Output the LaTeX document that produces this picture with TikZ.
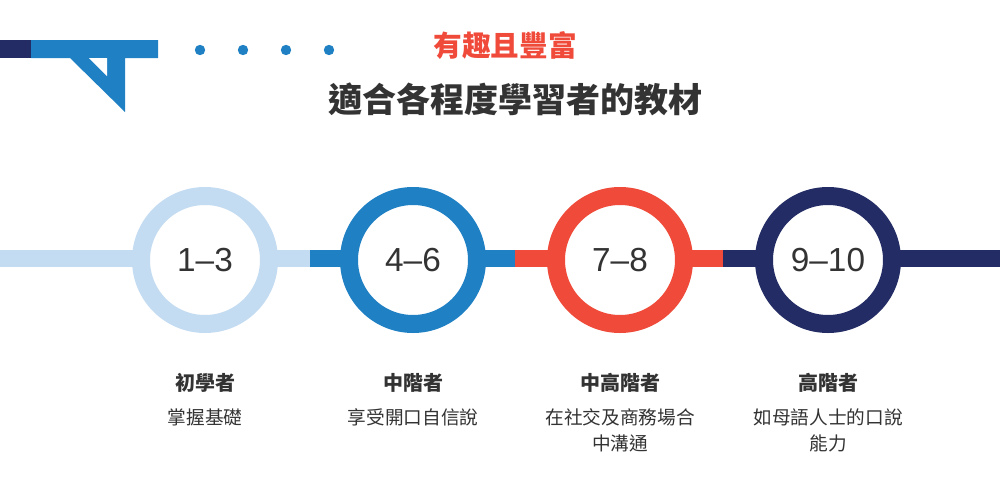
\documentclass[tikz,border=0pt]{standalone}
\usepackage{fontspec}
\setmainfont{Noto Sans CJK TC}
\newfontfamily\numfont{Liberation Sans}
\definecolor{navy}{HTML}{232C64}
\definecolor{mblue}{HTML}{1F80C4}
\definecolor{lblue}{HTML}{C4DCF2}
\definecolor{rred}{HTML}{EF4A3A}
\definecolor{txt}{HTML}{333333}
\begin{document}
\begin{tikzpicture}[x=0.75pt,y=-0.75pt,
  ring/.style={circle,minimum size=96pt,line width=13.5pt,inner sep=0,text=txt,font=\numfont\fontsize{25}{28}\selectfont,fill=white},
  lvl/.style={text=txt,font=\bfseries\fontsize{15}{18}\selectfont},
  desc/.style={text=txt,font=\fontsize{14}{19.5}\selectfont,align=center,anchor=north}]
\useasboundingbox (0,0) rectangle (1000,482);
\fill[navy] (0,40) rectangle (31,58);
\fill[mblue] (31,40) -- (158,40) -- (158,58) -- (125,58) -- (125,112) -- (70,58) -- (31,58) -- cycle;
\fill[white] (89,58) -- (107,58) -- (107,76) -- cycle;
\foreach \x [count=\i] in {200,243,286,329} \fill[mblue] (\x,50) circle (5.2) coordinate (d\i);
\node[text=rred,font=\bfseries\fontsize{21.5}{24}\selectfont] (t1) at (505,46) {有趣且豐富};
\node[text=txt,font=\bfseries\fontsize{25.5}{28}\selectfont] (t2) at (515,99) {適合各程度學習者的教材};
% line
\fill[lblue] (0,250) rectangle (310,267);
\fill[mblue] (310,250) rectangle (515,267);
\fill[rred] (515,250) rectangle (723,267);
\fill[navy] (723,250) rectangle (1000,267);
\node[ring,draw=lblue] (r1) at (205,260) {1–3};
\node[ring,draw=mblue] (r2) at (413,260) {4–6};
\node[ring,draw=rred] (r3) at (620,260) {7–8};
\node[ring,draw=navy] (r4) at (828,260) {9–10};
\node[lvl] (l1) at (205,383) {初學者};
\node[lvl] (l2) at (413,383) {中階者};
\node[lvl] (l3) at (620,383) {中高階者};
\node[lvl] (l4) at (828,383) {高階者};
\node[desc] (s1) at (205,404) {掌握基礎};
\node[desc] (s2) at (413,404) {享受開口自信說};
\node[desc] (s3) at (620,404) {在社交及商務場合\\中溝通};
\node[desc] (s4) at (828,404) {如母語人士的口說\\能力};
\end{tikzpicture}
\end{document}
